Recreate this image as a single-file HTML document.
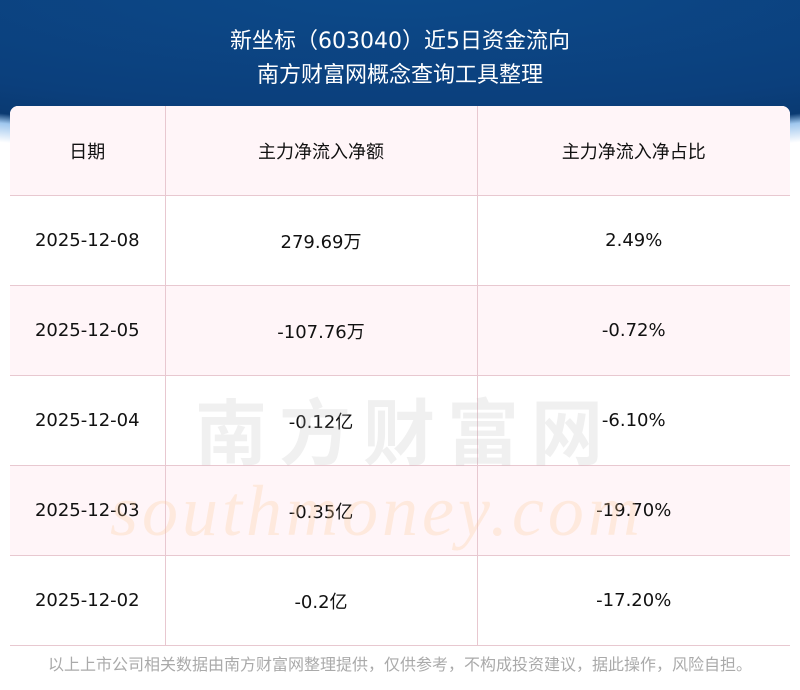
<!DOCTYPE html>
<html><head><meta charset="utf-8"><style>
body{margin:0;width:800px;height:690px;background:#fff;position:relative;overflow:hidden;font-family:"DejaVu Sans","Noto Sans CJK SC",sans-serif;}
.hdr{position:absolute;left:0;top:0;width:800px;height:160px;background:radial-gradient(ellipse 900px 170px at 400px -10px,#0c4a8a 0%,#0b3f7c 70%,#0a3a72 85%,#9fc7ee 90%,#fff 100%);}
.t{position:absolute;left:0;width:800px;text-align:center;color:#fff;font-size:22px;}
table{position:absolute;left:10px;top:106px;width:780px;border-collapse:collapse;font-size:18px;color:#111;background:#fff;border-radius:8px 8px 0 0;overflow:hidden}
td{border:1px solid #e8c8d0;text-align:center;height:89px;padding:0}
tr:nth-child(odd) td{background:#fff5f8}
tr td:first-child{border-left:none}tr td:last-child{border-right:none}
tr:first-child td{border-top:none}
.wm{position:absolute;left:110px;top:470px;font-size:72px;color:rgba(250,200,150,.28);font-family:"Liberation Serif",serif;font-style:italic;letter-spacing:4px}
.wm2{position:absolute;left:195px;top:375px;font-size:72px;color:rgba(180,180,180,.2);letter-spacing:12px;font-weight:bold}
.f{position:absolute;left:0;top:651px;width:800px;text-align:center;color:#aaa;font-size:16px}
</style></head><body>
<div class="hdr"></div>
<div class="t" style="top:23px">新坐标（603040）近5日资金流向</div>
<div class="t" style="top:57px">南方财富网概念查询工具整理</div>
<table>
<colgroup><col style="width:155px"><col style="width:312px"><col></colgroup>
<tr><td>日期</td><td>主力净流入净额</td><td>主力净流入净占比</td></tr>
<tr><td>2025-12-08</td><td>279.69万</td><td>2.49%</td></tr>
<tr><td>2025-12-05</td><td>-107.76万</td><td>-0.72%</td></tr>
<tr><td>2025-12-04</td><td>-0.12亿</td><td>-6.10%</td></tr>
<tr><td>2025-12-03</td><td>-0.35亿</td><td>-19.70%</td></tr>
<tr><td>2025-12-02</td><td>-0.2亿</td><td>-17.20%</td></tr>
</table>
<div class="wm2">南方财富网</div>
<div class="wm">southmoney.com</div>
<div class="f">以上上市公司相关数据由南方财富网整理提供，仅供参考，不构成投资建议，据此操作，风险自担。</div>
</body></html>
